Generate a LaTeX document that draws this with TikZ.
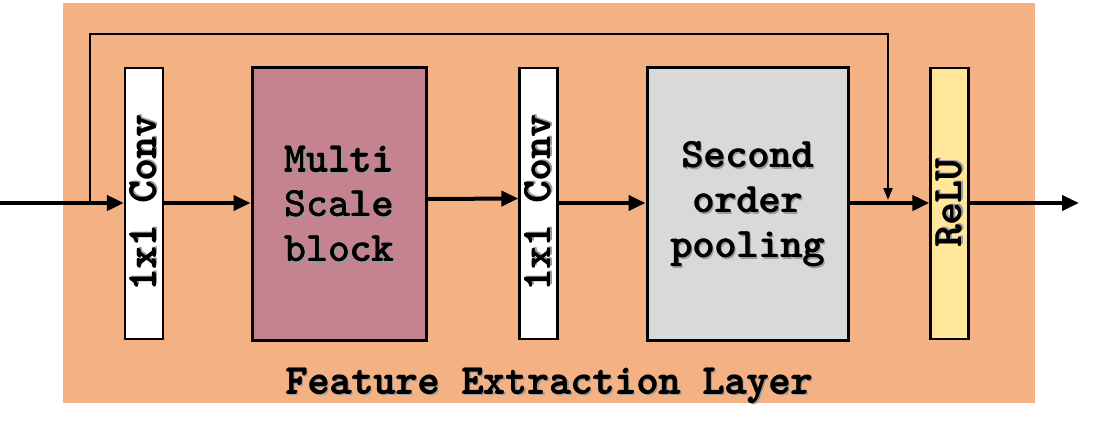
\documentclass[tikz,border=0pt]{standalone}
\usepackage{fontspec}
\usetikzlibrary{arrows.meta}
\definecolor{bgorange}{HTML}{F4B183}
\definecolor{mauve}{HTML}{C5828F}
\definecolor{lgray}{HTML}{D9D9D9}
\definecolor{lyellow}{HTML}{FFE699}
\newcommand{\shd}[1]{\makebox[0pt][l]{\hspace{2bp}\raisebox{-1.8bp}{\textcolor{black!40}{#1}}}\makebox[0pt][l]{\hspace{0.9bp}\raisebox{0.3bp}{#1}}#1}
\tikzset{
  lbl/.style={font=\fontsize{42}{45}\selectfont\ttfamily\bfseries, inner sep=0pt},
  thinbox/.style={draw=black, line width=2.2bp, minimum width=38bp, minimum height=271bp, inner sep=0pt},
  bigbox/.style={draw=black, line width=3bp, inner sep=0pt},
  mainarrow/.style={line width=4bp, -{Triangle[length=17bp,width=15bp]}},
  skiparrow/.style={line width=2.2bp, -{Triangle[length=12bp,width=9bp]}},
}
\begin{document}
\begin{tikzpicture}[x=1bp,y=-1bp]
\useasboundingbox (0,0) rectangle (1097,432);
\fill[bgorange] (63,3) rectangle (1035,403);
% boxes
\node[thinbox, fill=white] (c1) at (144,203.5) {};
\node[lbl, rotate=90] at (c1.center) {\shd{1x1 Conv}};
\node[bigbox, fill=mauve, minimum width=174bp, minimum height=273bp] (ms) at (339,204) {};
\node[lbl, align=center] at (339,205) {\shd{Multi}\\\shd{Scale}\\\shd{block}};
\node[thinbox, fill=white] (c2) at (538.5,203.5) {};
\node[lbl, rotate=90] at (c2.center) {\shd{1x1 Conv}};
\node[bigbox, fill=lgray, minimum width=201bp, minimum height=273bp] (sop) at (747.5,204) {};
\node[lbl, align=center] at (747.5,205) {\shd{Second}\\\shd{order}\\\shd{pooling}};
\node[thinbox, fill=lyellow] (relu) at (949.5,203.5) {};
\node[lbl, rotate=90] at (relu.center) {\shd{ReLU}};
\node[lbl, anchor=base] (title) at (549,394) {\shd{Feature Extraction Layer}};
% connectors
\coordinate (in) at (0,203);
\coordinate (split) at (90,203);
\coordinate (out) at (1079,203);
\coordinate (top) at (90,34);
\coordinate (join) at (888,200);
\draw[mainarrow] (in) -- (c1.west |- in);
\draw[mainarrow] (c1.east |- in) -- (ms.west |- in);
\draw[mainarrow] ([yshift=5bp]ms.east) -- ([yshift=5bp]c2.west);
\draw[mainarrow] (c2.east |- in) -- (sop.west |- in);
\draw[mainarrow] (sop.east |- in) -- (relu.west |- in);
\draw[mainarrow] (relu.east |- in) -- (out);
\draw[skiparrow, line join=miter] (split) -- (top) -| (join);
\end{tikzpicture}
\end{document}
